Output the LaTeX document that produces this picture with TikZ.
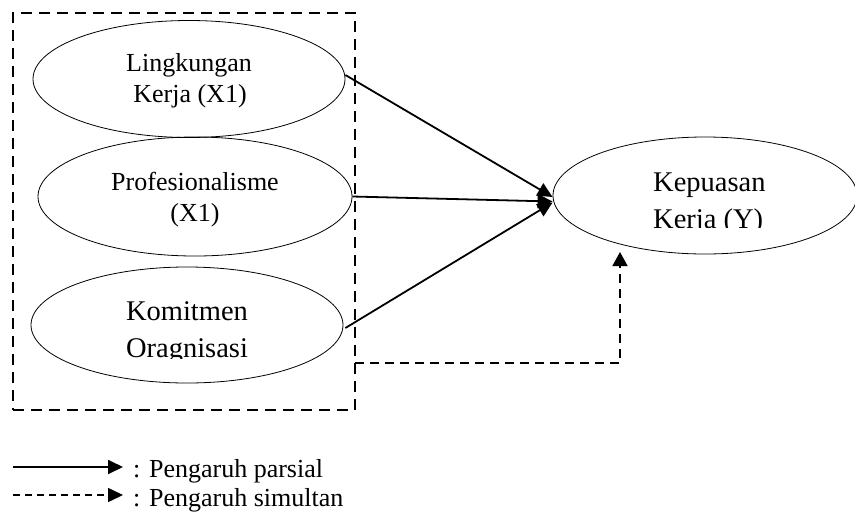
\documentclass[tikz,border=0pt]{standalone}
\usepackage{fontspec}
\setmainfont{Liberation Serif}
\usetikzlibrary{shapes.geometric,arrows.meta}
\tikzset{
  oval/.style={ellipse, draw, line width=0.8pt, inner sep=0pt},
  txt/.style={inner sep=0pt, anchor=base, font=\fontsize{26}{31}\selectfont},
  bigtxt/.style={inner sep=0pt, anchor=base, font=\fontsize{28.5}{34}\selectfont},
  legtxt/.style={inner sep=0pt, anchor=base west, font=\fontsize{26}{31}\selectfont},
  partial/.style={line width=1.8pt, -{Triangle[length=15pt,width=14pt]}},
  groupbox/.style={draw, line width=2.2pt, dash pattern=on 11pt off 7pt, inner sep=0pt},
  simul/.style={line width=1.6pt, dash pattern=on 9pt off 6pt, -{Triangle[length=14pt,width=15pt]}},
  legsimul/.style={line width=1.6pt, dash pattern=on 7pt off 5pt, -{Triangle[length=15pt,width=14pt]}}
}
\begin{document}
\begin{tikzpicture}[x=1pt,y=-1pt]
\useasboundingbox (0,0) rectangle (855,515);
% group box
\node[groupbox, minimum width=342pt, minimum height=397pt] (grp) at (184,211.5) {};
% ellipses
\node[oval, minimum width=312pt, minimum height=117pt] (x1) at (189,79) {};
\node[oval, minimum width=314pt, minimum height=119pt] (x2) at (195,196.5) {};
\node[oval, minimum width=312pt, minimum height=116pt] (x3) at (187,325) {};
\node[oval, minimum width=304pt, minimum height=117pt] (y) at (705,195.5) {};
% texts
\node[txt] (t1a) at (189,71) {Lingkungan};
\node[txt] (t1b) at (190,102) {Kerja (X1)};
\node[txt] (t2a) at (195,190) {Profesionalisme};
\node[txt] (t2b) at (195,221) {(X1)};
\node[bigtxt] (t3a) at (187,320) {Komitmen};
\begin{scope}
  \clip (0,0) rectangle (855,358);
  \node[bigtxt] (t3b) at (187,357) {Oragnisasi};
\end{scope}
\node[bigtxt, anchor=base west] (tya) at (653,191) {Kepuasan};
\begin{scope}
  \clip (0,0) rectangle (855,227.5);
  \node[bigtxt, anchor=base west] (tyb) at (653,228) {Kerja (Y)};
\end{scope}
% partial arrows
\draw[partial] ([yshift=4pt]x1.east) -- ([yshift=-1.5pt]y.west);
\draw[partial] (x2.east) -- ([yshift=-6pt]y.west);
\draw[partial] ([xshift=2pt,yshift=-3pt]x3.east) -- ([yshift=-7pt]y.west);
% simultaneous arrow
\coordinate (s) at (355,363);
\coordinate (t) at (620,252);
\draw[simul] (s) -| (t);
% legend
\coordinate (la) at (13,467);
\coordinate (lb) at (123,467);
\coordinate (lc) at (13,495);
\coordinate (ld) at (123,495);
\draw[partial] (la) -- (lb);
\draw[legsimul] (lc) -- (ld);
\node[legtxt] (l1) at (133,477) {: Pengaruh parsial};
\node[legtxt] (l2) at (133,506) {: Pengaruh simultan};
\end{tikzpicture}
\end{document}
